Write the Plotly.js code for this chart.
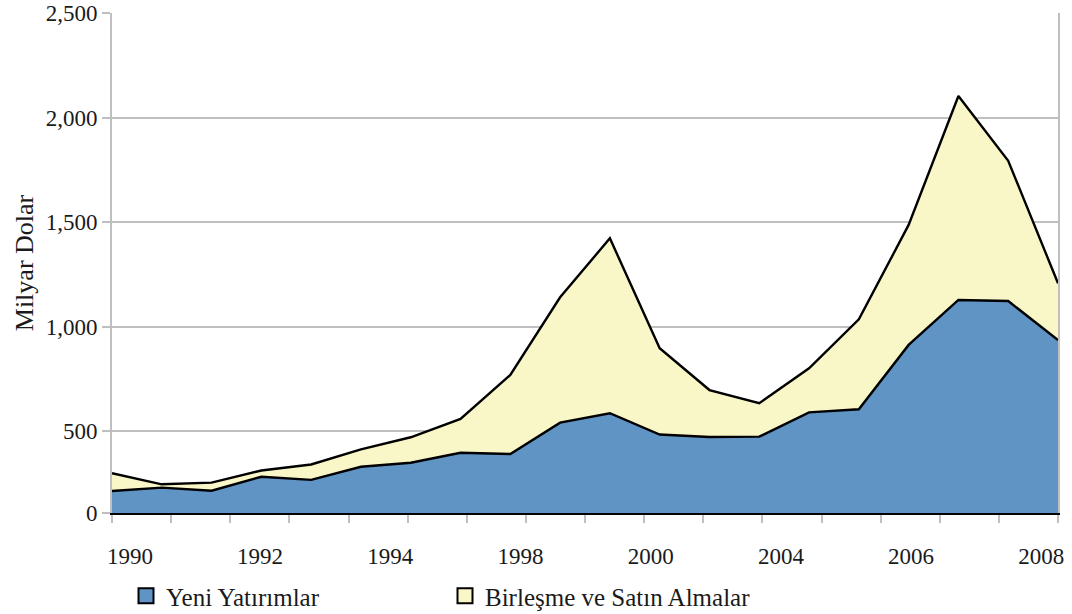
<!DOCTYPE html>
<html>
<head>
<meta charset="utf-8">
<script src="https://cdn.plot.ly/plotly-3.0.1.min.js"></script>
<style>
  html, body { margin: 0; padding: 0; background: #fff; }
  #chart { width: 1072px; height: 614px; }
</style>
</head>
<body>
<div id="chart"></div>
<script>
// ---- data ----
const years = [1990,1991,1992,1993,1994,1995,1996,1997,1998,1999,
               2000,2001,2002,2003,2004,2005,2006,2007,2008,2009];
const yeniYatirimlar = [213,229,214,281,266,329,348,396,390,540,
                        585,483,471,473,589,604,912,1127,1122,935];
const birlesmeSatinAlma = [85,16,39,30,74,83,122,162,378,600,
                           837,413,225,160,211,430,574,976,671,272];
const xTickLabels = ['1990','1992','1994','1998','2000','2004','2006','2008'];
const yTickLabels = ['0','500','1,000','1,500','2,000','2,500'];
const seriesNames = ['Yeni Yatırımlar', 'Birleşme ve Satın Almalar'];
const seriesColors = ['#5f94c5', '#f9f7c7'];

// ---- layout helpers ----
const FONT = 'Liberation Serif, Times New Roman, serif';
const TXT = '#1a1a1a';
const xMin = years[0], xMax = years[years.length - 1];
const nTicks = 17;
const xTickVals = [];
for (let k = 0; k < nTicks; k++) xTickVals.push(xMin + k * (xMax - xMin) / (nTicks - 1));
const labelStart = xMin + 0.36, labelStep = 2.615;
const xLabelVals = xTickLabels.map((_, k) => labelStart + k * labelStep);
const yMin = 107.7, yMax = 2500;
const yTickVals = [yMin, 500, 1000, 1500, 2000, 2500];

const traces = [];
seriesNames.forEach((name, i) => {
  traces.push({
    x: years, y: i === 0 ? yeniYatirimlar : birlesmeSatinAlma, name: name,
    type: 'scatter', mode: 'lines', stackgroup: 'one',
    line: {color: '#000000', width: 2.4},
    fillcolor: seriesColors[i], showlegend: false, hoverinfo: 'x+y'
  });
});
// legend-only entries (square swatches)
seriesNames.forEach((name, i) => {
  traces.push({
    x: [null], y: [null], name: name, type: 'scatter', mode: 'markers',
    marker: {symbol: 'square', size: 15, color: seriesColors[i], line: {color: '#000000', width: 2}},
    showlegend: true, hoverinfo: 'skip'
  });
});

const layout = {
  width: 1072, height: 614,
  margin: {l: 112, r: 14, t: 13, b: 101, autoexpand: false},
  paper_bgcolor: '#ffffff', plot_bgcolor: '#ffffff',
  font: {family: FONT, size: 23, color: TXT},
  showlegend: true,
  legend: {
    orientation: 'h', xref: 'container', yref: 'container',
    x: 126 / 1072, xanchor: 'left', y: 1 - 596 / 614, yanchor: 'middle',
    traceorder: 'normal', entrywidth: 274, entrywidthmode: 'pixels',
    font: {family: FONT, size: 25, color: TXT},
    itemwidth: 30, bgcolor: 'rgba(0,0,0,0)'
  },
  xaxis: {
    range: [xMin, xMax],
    tickmode: 'array', tickvals: xLabelVals, ticktext: xTickLabels,
    ticks: 'outside', ticklen: 21, tickcolor: 'rgba(0,0,0,0)',
    minor: {tickmode: 'array', tickvals: xTickVals, ticks: 'outside', ticklen: 8,
            tickwidth: 2, tickcolor: '#bfbfbf', showgrid: false},
    tickfont: {family: FONT, size: 23, color: TXT},
    showline: true, linecolor: '#000000', linewidth: 2,
    showgrid: false, zeroline: false
  },
  yaxis: {
    range: [yMin, yMax], tickmode: 'array', tickvals: yTickVals, ticktext: yTickLabels,
    ticks: 'outside', ticklen: 8, tickwidth: 2, tickcolor: '#bfbfbf',
    showline: true, linecolor: '#bfbfbf', linewidth: 2, mirror: true,
    showgrid: true, gridcolor: '#c0c0c0', gridwidth: 2, zeroline: false,
    tickfont: {family: FONT, size: 23, color: TXT},
    title: {text: 'Milyar Dolar', font: {family: FONT, size: 26, color: TXT}, standoff: 5}
  }
};

Plotly.newPlot('chart', traces, layout, {staticPlot: true, displayModeBar: false});
</script>
</body>
</html>
